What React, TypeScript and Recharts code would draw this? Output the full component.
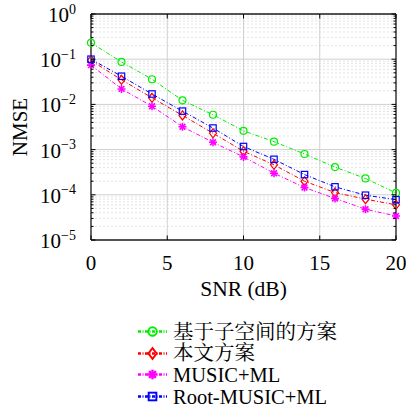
import React from 'react';
import {
  LineChart, Line, XAxis, YAxis, CartesianGrid, Legend,
} from 'recharts';

const snr = [0, 2, 4, 6, 8, 10, 12, 14, 16, 18, 20];

const subspace = [0.23, 0.087, 0.036, 0.0123, 0.0059, 0.0026, 0.0015, 0.0008, 0.00041, 0.00023, 0.00011];
const proposed = [0.094, 0.035, 0.014, 0.0057, 0.0023, 0.00092, 0.00046, 0.0002, 0.000112, 0.00008, 0.00006];
const musicMl = [0.074, 0.022, 0.0091, 0.0032, 0.00145, 0.00069, 0.0003, 0.000145, 0.000083, 0.000048, 0.000034];
const rootMusicMl = [0.1, 0.042, 0.017, 0.0071, 0.003, 0.00117, 0.00061, 0.00028, 0.00015, 0.000098, 0.000078];

const xTicks = [0, 5, 10, 15, 20];
const decades = [1e-5, 1e-4, 1e-3, 1e-2, 1e-1, 1];
const minorTicks = decades.slice(0, -1).flatMap((d) => [2, 3, 4, 5, 6, 7, 8, 9].map((m) => d * m));
const yTicks = [...decades, ...minorTicks];

type Shape = 'circle' | 'diamond' | 'star' | 'square';

const series: { key: string; name: string; color: string; shape: Shape; values: number[] }[] = [
  { key: 'subspace', name: '基于子空间的方案', color: '#00ee00', shape: 'circle', values: subspace },
  { key: 'proposed', name: '本文方案', color: '#ff0000', shape: 'diamond', values: proposed },
  { key: 'musicMl', name: 'MUSIC+ML', color: '#ff00ff', shape: 'star', values: musicMl },
  { key: 'rootMusicMl', name: 'Root-MUSIC+ML', color: '#0000ff', shape: 'square', values: rootMusicMl },
];

const data = snr.map((x, i) => {
  const row: Record<string, number> = { snr: x };
  series.forEach((s) => { row[s.key] = s.values[i]; });
  return row;
});

const serif = '"Liberation Serif", "Noto Serif CJK SC", serif';

const isMajor = (v: number) => {
  const e = Math.round(Math.log10(v));
  return Math.abs(v / Math.pow(10, e) - 1) < 1e-6;
};

const Marker = ({ shape, cx, cy, color, size = 1, sw = 1 }: { shape: Shape; cx: number; cy: number; color: string; size?: number; sw?: number }) => {
  if (shape === 'circle') {
    return <circle cx={cx} cy={cy} r={3.5 * size} fill="none" stroke={color} strokeWidth={sw} />;
  }
  if (shape === 'diamond') {
    const w = 3.5 * size;
    const h = 4.5 * size;
    return (
      <polygon
        points={`${cx},${cy - h} ${cx + w},${cy} ${cx},${cy + h} ${cx - w},${cy}`}
        fill="none" stroke={color} strokeWidth={sw}
      />
    );
  }
  if (shape === 'square') {
    const a = 3.2 * size;
    return <rect x={cx - a} y={cy - a} width={2 * a} height={2 * a} fill="none" stroke={color} strokeWidth={sw} />;
  }
  const r = 4 * size;
  const d = r * 0.72;
  return (
    <g stroke={color} strokeWidth={sw * 1.3}>
      <line x1={cx - r} y1={cy} x2={cx + r} y2={cy} />
      <line x1={cx} y1={cy - r} x2={cx} y2={cy + r} />
      <line x1={cx - d} y1={cy - d} x2={cx + d} y2={cy + d} />
      <line x1={cx - d} y1={cy + d} x2={cx + d} y2={cy - d} />
    </g>
  );
};

const LeftTick = (props: any) => {
  const { x, y, payload } = props;
  const v = payload.value;
  const major = isMajor(v);
  const e = Math.round(Math.log10(v));
  return (
    <g>
      <line x1={x} x2={x + (major ? 4.5 : 2.5)} y1={y} y2={y} stroke="#000" strokeWidth={1} />
      {major && (
        <text x={x - 15} y={y + 8} textAnchor="end" fontSize={21} fontFamily={serif} fill="#000">
          10<tspan dy={-8.5} fontSize={14}>{e === 0 ? '0' : `−${-e}`}</tspan>
        </text>
      )}
    </g>
  );
};

const RightTick = (props: any) => {
  const { x, y, payload } = props;
  const major = isMajor(payload.value);
  return <line x1={x - (major ? 4.5 : 2.5)} x2={x} y1={y} y2={y} stroke="#000" strokeWidth={1} />;
};

const BottomTick = (props: any) => {
  const { x, y, payload } = props;
  return (
    <g>
      <line x1={x} x2={x} y1={y} y2={y - 4.5} stroke="#000" strokeWidth={1} />
      <text x={x} y={y + 30} textAnchor="middle" fontSize={21} fontFamily={serif} fill="#000">
        {payload.value}
      </text>
    </g>
  );
};

const TopTick = (props: any) => {
  const { x, y } = props;
  return <line x1={x} x2={x} y1={y} y2={y + 4.5} stroke="#000" strokeWidth={1} />;
};

const LegendBox = () => (
  <div style={{ fontFamily: serif, fontSize: 20.5, color: '#000' }}>
    {series.map((s) => (
      <div key={s.key} style={{ display: 'flex', alignItems: 'center', height: 21.6, whiteSpace: 'nowrap', overflow: 'visible' }}>
        <svg width={37} height={21} style={{ display: 'block', flex: 'none' }}>
          <line x1={2} x2={31} y1={10.5} y2={10.5} stroke={s.color} strokeWidth={2.4} strokeDasharray="3 1.5 1 1.5" />
          <Marker shape={s.shape} cx={16.5} cy={10.5} color={s.color} size={1.2} sw={1.9} />
        </svg>
        <span style={{ lineHeight: '20px', display: 'block' }}>{s.name}</span>
      </div>
    ))}
  </div>
);

export default function App() {
  return (
    <div style={{ position: 'absolute', left: 0, top: 0, width: 406, height: 408, background: '#fff' }}>
      <LineChart width={406} height={408} data={data} margin={{ top: 0, right: 0, bottom: 108, left: 0 }}>
        <CartesianGrid
          vertical={false}
          horizontalValues={minorTicks}
          stroke="#e4e4e4"
          strokeDasharray="2 2"
        />
        <CartesianGrid
          horizontalValues={decades}
          verticalValues={xTicks}
          stroke="#cfcfcf"
        />
        <XAxis
          dataKey="snr"
          type="number"
          domain={[0, 20]}
          ticks={xTicks}
          interval={0}
          height={60}
          tickSize={0}
          tickMargin={0}
          tickLine={false}
          axisLine={{ stroke: '#222', strokeWidth: 1.3 }}
          tick={<BottomTick />}
          label={(p: any) => {
            const vb = p.viewBox || { x: 91, width: 305 };
            return (
              <text x={vb.x + vb.width / 2} y={296} textAnchor="middle" fontSize={21.5} fontFamily={serif} fill="#000">
                SNR (dB)
              </text>
            );
          }}
        />
        <XAxis
          xAxisId="top"
          orientation="top"
          dataKey="snr"
          type="number"
          domain={[0, 20]}
          ticks={xTicks}
          interval={0}
          height={14}
          tickSize={0}
          tickMargin={0}
          tickLine={false}
          axisLine={{ stroke: '#222', strokeWidth: 1.3 }}
          tick={<TopTick />}
        />
        <YAxis
          scale="log"
          type="number"
          domain={[1e-5, 1]}
          allowDataOverflow
          ticks={yTicks}
          interval={0}
          width={91}
          tickSize={0}
          tickMargin={0}
          tickLine={false}
          axisLine={{ stroke: '#222', strokeWidth: 1.3 }}
          tick={<LeftTick />}
          label={(p: any) => {
            const vb = p.viewBox || { y: 14, height: 226 };
            const cy = vb.y + vb.height / 2;
            return (
              <text x={27} y={cy} transform={`rotate(-90 27 ${cy})`} textAnchor="middle" fontSize={21} fontFamily={serif} fill="#000">
                NMSE
              </text>
            );
          }}
        />
        <YAxis
          yAxisId="right"
          orientation="right"
          scale="log"
          type="number"
          domain={[1e-5, 1]}
          allowDataOverflow
          ticks={yTicks}
          interval={0}
          width={10}
          tickSize={0}
          tickMargin={0}
          tickLine={false}
          axisLine={{ stroke: '#222', strokeWidth: 1.3 }}
          tick={<RightTick />}
        />
        {series.map((s) => (
          <Line
            key={s.key}
            type="linear"
            dataKey={s.key}
            name={s.name}
            stroke={s.color}
            strokeWidth={1}
            strokeDasharray="4 2 1 2"
            isAnimationActive={false}
            dot={(p: any) => (
              <Marker key={`${s.key}-${p.index}`} shape={s.shape} cx={p.cx} cy={p.cy} color={s.color} sw={1.2} />
            )}
            activeDot={false}
          />
        ))}
        <Legend
          layout="vertical"
          align="center"
          verticalAlign="middle"
          content={<LegendBox />}
          wrapperStyle={{ left: 136, top: 321, width: 270 }}
        />
      </LineChart>
    </div>
  );
}
